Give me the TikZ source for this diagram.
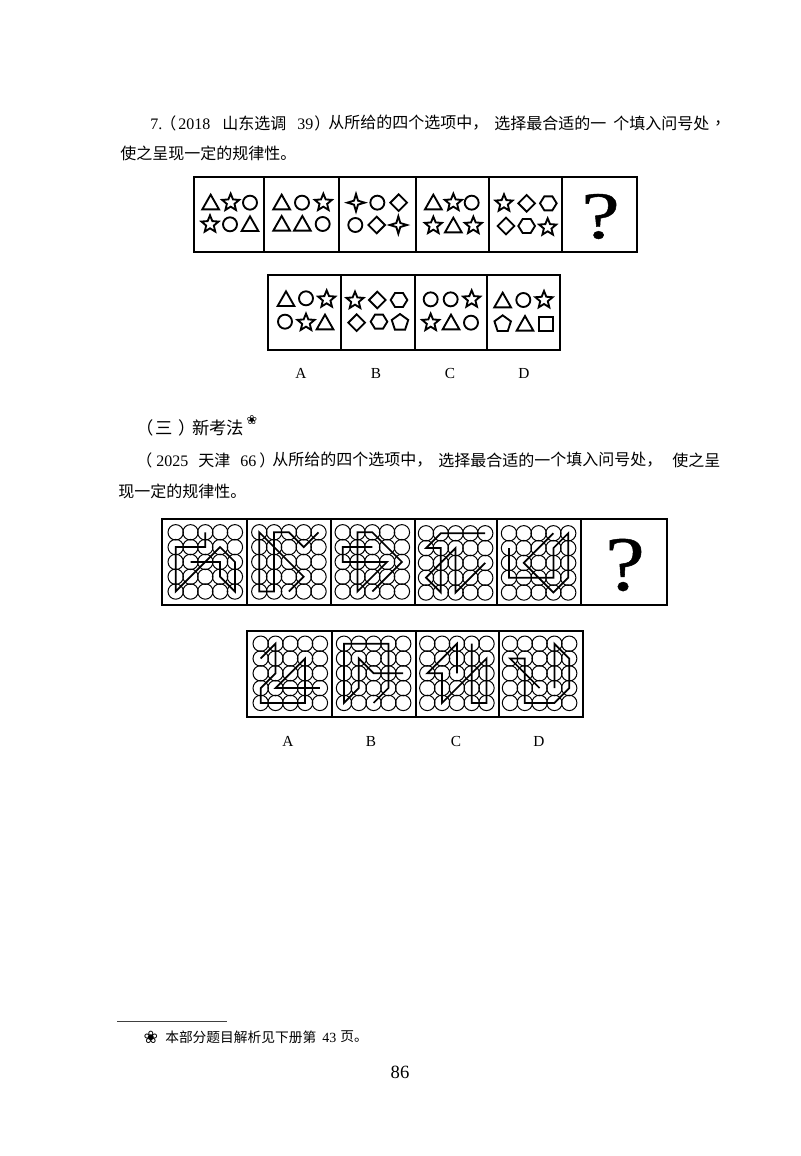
\documentclass[tikz,border=0pt]{standalone}
\usepackage{fontspec}
\setmainfont{Liberation Serif}
\newfontfamily\cjk{Noto Sans CJK SC}
\newfontfamily\dejavu{DejaVu Sans}
\newfontfamily\qf[FakeBold=0.6]{Liberation Serif}
\tikzset{
  frame/.style={line width=1.5pt,line join=miter},
  sym/.style={line width=1.4pt,line join=miter},
  gridc/.style={line width=0.75pt},
  route/.style={line width=1.3pt,line join=miter,line cap=butt},
  txt/.style={anchor=west,inner sep=0pt,font=\cjk\fontsize{12}{12}\selectfont},
  num/.style={anchor=west,inner sep=0pt,font=\fontsize{12}{12}\selectfont},
  lab/.style={anchor=center,inner sep=0pt,font=\fontsize{11.5}{12}\selectfont},
  head/.style={anchor=west,inner sep=0pt,font=\cjk\fontsize{13}{13}\selectfont},
  small/.style={anchor=west,inner sep=0pt,font=\cjk\fontsize{10.3}{11}\selectfont},
  smallnum/.style={anchor=west,inner sep=0pt,font=\fontsize{10.5}{11}\selectfont},
  qmark/.style={anchor=center,inner sep=0pt,font=\qf\fontsize{50}{50}\selectfont},
}
% symbols, in coordinates of the zoomed crop
\newcommand\tri[2]{\draw[sym,shift={(#1,#2)}] (-25,20) -- (0,-24) -- (25,20) -- cycle;}
\newcommand\circl[2]{\draw[sym] (#1,#2) circle (21);}
\newcommand\diam[2]{\draw[sym,shift={(#1,#2)}] (0,-25) -- (25,0) -- (0,25) -- (-25,0) -- cycle;}
\newcommand\hexa[2]{\draw[sym,shift={(#1,#2)}] (-25,0) -- (-12,-21) -- (12,-21) -- (25,0) -- (12,21) -- (-12,21) -- cycle;}
\newcommand\penta[2]{\draw[sym,shift={(#1,#2)}] (-90:26) -- (-18:26) -- (54:26) -- (126:26) -- (198:26) -- cycle;}
\newcommand\squa[2]{\draw[sym] (#1-20,#2-20) rectangle (#1+20,#2+20);}
\newcommand\stard[2]{\draw[sym,shift={(#1,#2)}] (-90:27) -- (-54:12) -- (-18:27) -- (18:12) -- (54:27) -- (90:12) -- (126:27) -- (162:12) -- (198:27) -- (234:12) -- cycle;}
\newcommand\fourst[2]{\draw[sym,shift={(#1,#2)}] (0,-26) -- (6,-6) -- (26,0) -- (6,6) -- (0,26) -- (-6,6) -- (-26,0) -- (-6,-6) -- cycle;}
% circle grid + route
\newcommand\cgrid[3]{%
  \begin{scope}[shift={(#1,#2)},x=11.1pt,y=-11.1pt]
    \foreach \c in {0,...,4}\foreach \r in {0,...,4}{\draw[gridc] (\c,\r) circle (0.52);}
    \draw[route] #3;
  \end{scope}}
\begin{document}
\begin{tikzpicture}[x=0.75pt,y=-0.75pt]
\useasboundingbox (0,0) rectangle (800,1156);
\fill[white] (0,0) rectangle (800,1156);

% text block 1
\node[num] (t1) at (150,124) {7.};
\node[txt] (t2) at (160,123) {（};
\node[num] (t3) at (178,124) {2018};
\node[txt] (t4) at (222,123) {山东选调};
\node[num] (t5) at (297,124) {39};
\node[txt] (t6) at (314,123) {）};
\node[txt] (t7) at (328,123) {从所给的四个选项中，};
\node[txt] (t8) at (494,123) {选择最合适的一};
\node[txt] (t9) at (613,123) {个填入问号处};
\node[txt] (t10) at (714,123) {，};
\node[txt] (t11) at (120,153) {使之呈现一定的规律性。};

% top row
\draw[frame] (193.5,177) rectangle (637,252);
\foreach \x in {264,339,416,489,562}{\draw[frame] (\x,177) -- (\x,252);}
\node[qmark] (q1) at (600.5,216.5) {\scalebox{1.3}[1]{?}};
\begin{scope}[shift={(180,170)},x=0.25pt,y=-0.25pt]
\tri{92}{98}\stard{152}{98}\circl{210}{98}\stard{90}{163}\circl{150}{163}\tri{210}{163}
\tri{305}{98}\circl{366}{98}\stard{430}{98}\tri{305}{162}\tri{367}{162}\circl{428}{162}
\fourst{528}{98}\circl{592}{98}\diam{656}{98}\circl{526}{165}\diam{590}{165}\fourst{655}{165}
\tri{760}{98}\stard{820}{98}\circl{875}{98}\stard{760}{167}\tri{820}{167}\stard{880}{167}
\stard{972}{100}\diam{1040}{100}\hexa{1105}{100}\diam{978}{168}\hexa{1040}{168}\stard{1103}{172}
\tri{318}{388}\circl{378}{385}\stard{440}{388}\circl{315}{455}\stard{378}{458}\tri{435}{458}
\stard{525}{392}\diam{592}{390}\hexa{657}{390}\diam{530}{458}\hexa{597}{455}\penta{660}{458}
\circl{752}{388}\circl{812}{388}\stard{875}{388}\stard{752}{458}\tri{813}{458}\circl{873}{458}
\tri{968}{392}\circl{1030}{390}\stard{1092}{390}\penta{968}{462}\tri{1035}{462}\squa{1098}{462}
\end{scope}
\draw[frame] (268,275) rectangle (560,350);
\foreach \x in {341,415,487}{\draw[frame] (\x,275) -- (\x,350);}
\node[lab] (a1) at (301,373) {A};
\node[lab] (b1) at (376,373) {B};
\node[lab] (c1) at (450,373) {C};
\node[lab] (d1) at (524,373) {D};

% section
\node[head] (s1) at (136,428) {（};
\node[head] (s1b) at (155,428) {三};
\node[head] (s1c) at (178,428) {）};
\node[head] (s1d) at (192,428) {新考法};
\node[anchor=center,inner sep=0pt,font=\dejavu\fontsize{9.5}{10}\selectfont] (s2) at (252,420) {❀};

% text block 2
\node[txt] (u1) at (136,460) {（};
\node[num] (u2) at (156,461) {2025};
\node[txt] (u3) at (198,460) {天津};
\node[num] (u4) at (240,461) {66};
\node[txt] (u5) at (259,460) {）};
\node[txt] (u6) at (272,460) {从所给的四个选项中，};
\node[txt] (u7) at (438,460) {选择最合适的一};
\node[txt] (u8) at (550,460) {个填入问号处，};
\node[txt] (u9) at (672,460) {使之呈};
\node[txt] (u10) at (118,491) {现一定的规律性。};

% third row
\draw[frame] (162.3,519) rectangle (666.7,604.5);
\foreach \x in {247.3,330.7,415.3,497.3,581}{\draw[frame] (\x,519) -- (\x,604.5);}
\node[qmark,font=\qf\fontsize{58}{58}\selectfont] (q2) at (625,565) {\scalebox{1.15}[1]{?}};
\cgrid{175.7}{532.3}{(2,0) -- (2,1) -- (0,1) -- (0,4) -- (3,1) -- (4,2) -- (4,4) -- (3,3) -- (3,2) -- (1,2)}
\cgrid{259.3}{532.3}{(4,0) -- (3,1) -- (2,0) -- (1,0) -- (1,4) -- (0,4) -- (0,0) -- (3,3) -- (2,4)}
\cgrid{342.7}{532.3}{(2,1) -- (0,1) -- (0,2) -- (3,2) -- (1,4) -- (1,0) -- (2,0) -- (4,2) -- (2,4)}
\cgrid{426}{533.3}{(4,0) -- (1,0) -- (0,1) -- (1,1) -- (1,4) -- (0,3) -- (2,1) -- (2,4) -- (4,2)}
\cgrid{509}{533.3}{(0,1) -- (0,3) -- (3,3) -- (3,1) -- (4,0) -- (4,3) -- (3,4) -- (1,2) -- (3,0)}

% fourth row
\draw[frame] (247.3,631) rectangle (583.3,717);
\foreach \x in {331.7,415.7,499}{\draw[frame] (\x,631) -- (\x,717);}
\cgrid{260.7}{643.7}{(0,1) -- (1,0) -- (1,2) -- (0,3) -- (0,4) -- (3,4) -- (3,1) -- (1,3) -- (4,3)}
\cgrid{344}{643.7}{(4,2) -- (2,2) -- (1,1) -- (1,3) -- (0,4) -- (0,0) -- (3,0) -- (3,3) -- (2,4)}
\cgrid{427.3}{643.7}{(2,2) -- (2,0) -- (0,2) -- (1,2) -- (1,4) -- (4,1) -- (4,4) -- (3,4) -- (3,0)}
\cgrid{510}{643.7}{(3,3) -- (3,0) -- (4,1) -- (4,3) -- (3,4) -- (1,4) -- (1,1) -- (0,1) -- (2,3)}
\node[lab] (a2) at (288,741) {A};
\node[lab] (b2) at (371,741) {B};
\node[lab] (c2) at (456,741) {C};
\node[lab] (d2) at (539,741) {D};

% footnote
\coordinate (r1) at (117,1021);
\coordinate (r2) at (227,1021);
\draw[line width=0.7pt,black!75] (r1) -- (r2);
\node[anchor=center,inner sep=0pt,font=\dejavu\fontsize{13}{13}\selectfont] (f1) at (151,1037) {❀};
\node[small] (f2) at (165,1037) {本部分题目解析见下册第};
\node[smallnum] (f3) at (322,1038) {43};
\node[small] (f4) at (340,1037) {页。};
\node[anchor=center,inner sep=0pt,font=\fontsize{14}{14}\selectfont] (pg) at (400,1072) {86};
\end{tikzpicture}
\end{document}
